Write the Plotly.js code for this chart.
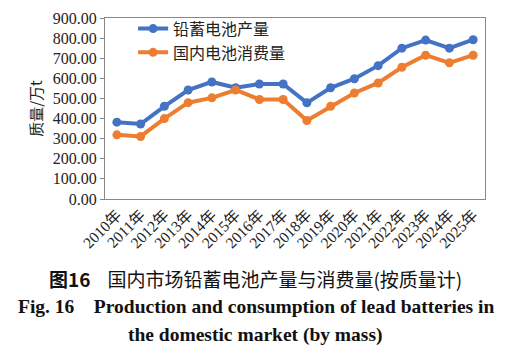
<!DOCTYPE html>
<html><head><meta charset="utf-8">
<script src="https://cdn.plot.ly/plotly-3.0.1.min.js"></script>
<style>html,body{margin:0;padding:0;background:#fff}#c{width:511px;height:363px}</style>
</head><body><div id="c"></div>
<script>
const years = ["2010年","2011年","2012年","2013年","2014年","2015年","2016年","2017年","2018年","2019年","2020年","2021年","2022年","2023年","2024年","2025年"];
const production = [382,373,461,542,582,553,572,572,478,553,598,663,750,790,750,792];
const consumption = [319,311,400,479,503,542,495,495,390,461,527,577,655,715,677,715];
const seriesNames = ["铅蓄电池产量","国内电池消费量"];
const yTicks = [0,100,200,300,400,500,600,700,800,900];

const serif = "Liberation Serif, Times New Roman, Noto Sans CJK SC, serif";
const cjk = "Noto Sans CJK SC, sans-serif";

const traces = [
  {x: years, y: production, name: seriesNames[0], type: "scatter", mode: "lines+markers",
   line: {color: "#4472C4", width: 4}, marker: {color: "#4472C4", size: 9}},
  {x: years, y: consumption, name: seriesNames[1], type: "scatter", mode: "lines+markers",
   line: {color: "#ED7D31", width: 4}, marker: {color: "#ED7D31", size: 9}}
];

const cy = py => (199 - py) / 186;

const layout = {
  width: 511, height: 363,
  margin: {l: 105, r: 26, t: 13, b: 164},
  paper_bgcolor: "#fff", plot_bgcolor: "#fff",
  showlegend: true,
  legend: {x: 0.074, y: 1.035, xanchor: "left", yanchor: "top", bgcolor: "rgba(0,0,0,0)",
           font: {family: cjk, size: 16, color: "#222"}, tracegroupgap: 0},
  xaxis: {type: "category", range: [-0.5, 15.5], tickangle: -45,
          tickfont: {family: serif, size: 15.5, color: "#222"},
          showline: true, linecolor: "#888", linewidth: 1, mirror: true,
          ticks: "", showgrid: false, zeroline: false},
  yaxis: {range: [0, 900], tickvals: yTicks, tickformat: ".2f",
          tickfont: {family: serif, size: 16, color: "#222"},
          showline: true, linecolor: "#888", linewidth: 1, mirror: true,
          ticks: "outside", ticklen: 4, tickcolor: "#888",
          showgrid: false, zeroline: false,
          title: {text: "质量/万t", font: {family: cjk, size: 15, color: "#222"}, standoff: 6}},
  annotations: [
    {xref: "paper", yref: "paper", x: 0.397, y: cy(281), xanchor: "center", yanchor: "middle",
     showarrow: false, text: "<b>图16</b>    国内市场铅蓄电池产量与消费量(按质量计)",
     font: {family: cjk, size: 19, color: "#111"}},
    {xref: "paper", yref: "paper", x: 0.397, y: cy(309), xanchor: "center", yanchor: "middle",
     showarrow: false, text: "<b>Fig. 16    Production and consumption of lead batteries in</b>",
     font: {family: serif, size: 19.5, color: "#111"}},
    {xref: "paper", yref: "paper", x: 0.397, y: cy(339), xanchor: "center", yanchor: "middle",
     showarrow: false, text: "<b>the domestic market (by mass)</b>",
     font: {family: serif, size: 19.5, color: "#111"}}
  ]
};
Plotly.newPlot("c", traces, layout, {displayModeBar: false, staticPlot: true});
</script></body></html>
